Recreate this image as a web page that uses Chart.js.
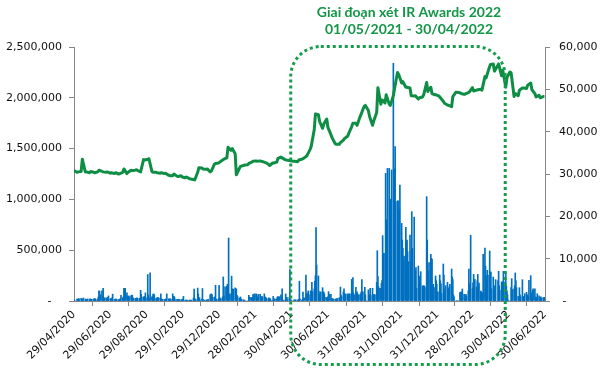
<!DOCTYPE html>
<html><head><meta charset="utf-8">
<script src="https://cdn.jsdelivr.net/npm/chart.js@4/dist/chart.umd.min.js"></script>
<style>html,body{margin:0;padding:0;background:#fff}#wrap{width:603px;height:381px}</style>
</head><body><div id="wrap"><canvas id="c" width="603" height="381"></canvas></div>
<script>
// ---- data ----
const startDate = '29/04/2020';   // day 0 of the x axis
const endDate = '30/06/2022';
const xTickLabels = ['29/04/2020','29/06/2020','29/08/2020','29/10/2020','29/12/2020','28/02/2021','30/04/2021','30/06/2021','31/08/2021','31/10/2021','31/12/2021','28/02/2022','30/04/2022','30/06/2022'];
const titleLines = ['Giai đoạn xét IR Awards 2022', '01/05/2021 - 30/04/2022'];
const periodStart = '01/05/2021', periodEnd = '30/04/2022';
const volumeTicks = [0, 500, 1000, 1500, 2000, 2500];          // thousand shares
const priceTicks = [0, 10000, 20000, 30000, 40000, 50000, 60000];
// daily volume (thousand shares), rows = Mon..Fri weeks starting Mon 27/04/2020
const volume = [
 null,null,15,0,0, 18,12,20,25,14, 27,20,15,22,30, 12,18,15,10,20, 14,22,18,12,16,
 20,15,25,18,12, 20,40,100,95,60, 100,45,125,33,30, 30,25,20,35,50, 20,25,18,30,67,
 15,12,20,18,14, 12,16,20,15,57, 30,40,125,120,125, 80,50,45,50,40, 50,57,57,30,25,
 27,20,25,30,22, 27,25,105,65,40, 35,45,40,80,30, 260,60,0,27,278, 40,40,65,70,60,
 25,30,20,35,30, 30,70,22,15,15, 15,15,18,20,70, 20,18,22,20,15, 70,40,45,35,15,
 15,12,15,18,14, 12,15,10,18,45, 8,8,10,6,8, 8,10,8,7,9, 30,117,25,15,12,
 127,70,15,33,10, 20,123,15,8,8, 8,10,8,12,15, 60,65,70,62,35, 35,40,155,15,18,
 20,155,33,20,25, 40,237,50,10,140, 145,165,90,620,70, 70,245,110,120,115, 130,100,120,55,45,
 30,25,40,20,15, 10,12,0,0,0, 0,0,55,35,35, 35,30,63,40,70, 70,65,35,40,65,
 65,40,35,45,38, 70,40,35,30,20, 25,30,20,22,8, 8,45,20,20,18, 22,40,40,38,42,
 60,40,120,8,8, 8,70,10,35,12, 35,310,10,12,0, 0,10,12,8,10, 10,12,15,195,20,
 8,10,87,25,30, 255,70,60,80,100, 60,100,80,184,92, 120,197,250,722,354, 246,92,60,70,90,
 131,60,90,70,35, 35,25,40,92,65, 65,20,15,25,18, 15,20,18,22,25, 33,25,138,60,45,
 90,121,70,70,65, 70,60,70,65,70, 213,100,230,75,60, 135,60,90,70,60, 60,70,90,210,90,
 90,135,60,0,0, 110,60,60,125,60, 125,60,60,65,60, 184,495,240,141,125, 125,174,200,643,469,
 469,1256,800,470,1305, 1305,1004,1000,995,1290, 2340,1263,1300,1519,977, 985,985,800,900,1141, 764,600,518,403,443,
 725,584,600,485,387, 650,380,500,879,518, 826,246,300,328,125, 344,131,246,200,289, 148,148,150,148,138,
 1027,600,141,300,377, 459,420,410,141,164, 131,246,200,167,90, 90,256,200,170,75, 364,256,79,120,151,
 184,98,125,140,164, 315,236,210,60,40, 0,0,0,0,0, 82,85,90,33,118, 65,40,26,65,50,
 100,315,170,150,646, 121,180,262,150,213, 138,200,262,150,177, 98,89,72,80,459, 521,344,250,194,302,
 253,492,285,285,121, 236,150,105,150,210, 0,200,292,150,105, 187,187,187,292,187, 285,144,100,60,8,
 0,0,131,220,112, 121,150,276,200,131, 46,40,131,60,40, 210,46,40,40,72, 85,60,40,50,203,
 249,59,80,105,121, 121,40,35,33,72, 50,23,30,40,30, 33,30,35,20,null
];
// closing price (VND), pairs per week: Wednesday (from 29/04/2020) then the following Monday
const price = [
 30800,30400, 30500,30600, 33500,30500, 30500,30300, 30600,30400, 30300,30500, 30900,30600, 30500,30400,
 30500,30200, 30300,30100, 30300,30000, 30100,30400, 31200,30100, 30400,30900, 30800,30900, 31000,30600,
 30500,33400, 33300,33500, 33600,30600, 30400,30400, 30300,30200, 30300,30100, 30200,29700, 29600,29600,
 30000,29500, 29400,29600, 29300,29100, 29300,28900, 28800,28700, 28600,30400, 31500,31400, 31200,31100,
 31200,30500, 30700,32300, 32500,32600, 32800,33300, 33500,33800, 36300,35600, 36000,34800, 29800,31300,
 31800,32000, 32100,32200, 32500,32800, 33000,33100, 33000,33100, 33000,32800, 32700,32300, 32000,32600,
 32600,32800, 33700,34000, 33800,33400, 33300,33200, 33100,33000, 33000,32900, 33300,33500, 33600,34100,
 34400,35800, 36600,40500, 44200,44000, 42400,40800, 41800,43000, 41000,39300, 38600,37200, 37000,37000,
 37400,38000, 38400,38900, 39600,41200, 42000,42000, 41500,43500, 44200,46000, 46200,45000, 43600,41500,
 42500,44500, 50400,46500, 47500,46800, 48700,46500, 46200,48500, 50200,54000, 53500,51500, 51800,50500,
 50500,50300, 48500,48400, 48500,47700, 48000,48200, 48700,51600, 49500,50500, 49000,48700, 48700,48400,
 48000,47200, 46700,46300, 46200,45900, 48300,49300, 49300,49200, 49000,48800, 48900,49200, 49400,50400,
 49600,49800, 49900,50000, 49800,53000, 52700,55000, 55800,56000, 54300,55500, 56000,53200, 54500,50500,
 52800,54100, 53900,48300, 49000,48500, 49800,50300, 50300,50200, 51000,51500, 49900,49000, 48200,48600,
 48000,48300, 48300
];

// ---- helpers ----
function toUTC(s){const [d,m,y]=s.split('/').map(Number);return Date.UTC(y,m-1,d);}
const DAY0 = toUTC(startDate);
function dayOf(s){return Math.round((toUTC(s)-DAY0)/86400000);}
const tickDays = xTickLabels.map(dayOf);
const labelByDay = {}; xTickLabels.forEach((l,i)=>labelByDay[tickDays[i]]=l);

const volData = [];
volume.forEach((v,i)=>{ if(v==null) return; volData.push({x: 7*Math.floor(i/5) + (i%5) - 2, y: v}); });
const priceData = price.map((p,j)=>({x: 7*Math.floor(j/2) + (j%2 ? 5 : 0), y: p}));

function fmt(n){return n.toLocaleString('en-US');}

const overlay = {
  id: 'overlay',
  afterDraw(ch){
    const c = ch.ctx, xs = ch.scales.x;
    const l = xs.getPixelForValue(dayOf(periodStart)) - 1.5;
    const r = xs.getPixelForValue(dayOf(periodEnd)) - 3.5;
    const t = ch.chartArea.top - 0.5, b = 364.5, rad = 30;
    c.save();
    c.strokeStyle = '#179C4C'; c.lineWidth = 3; c.setLineDash([3,3]);
    c.beginPath();
    c.moveTo(l+rad, t); c.lineTo(r-rad, t); c.arcTo(r, t, r, t+rad, rad);
    c.lineTo(r, b-rad); c.arcTo(r, b, r-rad, b, rad);
    c.lineTo(l+rad, b); c.arcTo(l, b, l, b-rad, rad);
    c.lineTo(l, t+rad); c.arcTo(l, t, l+rad, t, rad);
    c.closePath(); c.stroke();
    c.restore();
    c.save();
    c.fillStyle = '#149647'; c.font = 'bold 14px Lato'; c.textAlign = 'center'; c.textBaseline = 'middle';
    c.fillText(titleLines[0], 409, 12);
    c.fillText(titleLines[1], 409, 29);
    c.restore();
  }
};

const axisGray = '#868686';
const tickFont = {family: 'DejaVu Sans', size: 11};

new Chart(document.getElementById('c'), {
  data: {
    datasets: [
      {type: 'line', data: priceData, xAxisID: 'x', yAxisID: 'y2', borderColor: '#0E8E44', borderWidth: 3,
       pointRadius: 0, tension: 0, order: 0, borderJoinStyle: 'round'},
      {type: 'bar', data: volData, xAxisID: 'x', yAxisID: 'y', backgroundColor: '#0070C0',
       barThickness: 1, grouped: false, order: 1}
    ]
  },
  options: {
    responsive: false, animation: false, devicePixelRatio: 1,
    layout: {padding: {top: 47, left: 0, right: 0, bottom: 0}},
    plugins: {legend: {display: false}, tooltip: {enabled: false}},
    scales: {
      x: {
        type: 'linear', min: dayOf(startDate), max: dayOf(endDate), offset: false,
        afterBuildTicks: s => { s.ticks = tickDays.map(v => ({value: v})); },
        ticks: {autoSkip: false, minRotation: 45, maxRotation: 45, padding: 2, color: '#111', font: tickFont,
                callback: v => labelByDay[v] || ''},
        grid: {drawOnChartArea: false, drawTicks: true, tickLength: 5, color: axisGray},
        border: {display: true, color: axisGray},
        afterFit: s => { s.height = 80; }
      },
      y: {
        position: 'left', min: 0, max: 2500,
        afterBuildTicks: s => { s.ticks = volumeTicks.map(v => ({value: v})); },
        ticks: {padding: 7, color: '#111', font: tickFont, callback: v => v === 0 ? '-   ' : fmt(v*1000)},
        grid: {drawOnChartArea: false, tickLength: 5, color: axisGray},
        border: {display: true, color: axisGray},
        afterFit: s => { s.width = 74; }
      },
      y2: {
        position: 'right', min: 0, max: 60000,
        afterBuildTicks: s => { s.ticks = priceTicks.map(v => ({value: v})); },
        ticks: {padding: 9, color: '#111', font: tickFont, callback: v => v === 0 ? ' -' : fmt(v)},
        grid: {drawOnChartArea: false, tickLength: 5, color: axisGray},
        border: {display: true, color: axisGray},
        afterFit: s => { s.width = 58; }
      }
    }
  },
  plugins: [overlay]
});
</script>
</body></html>
